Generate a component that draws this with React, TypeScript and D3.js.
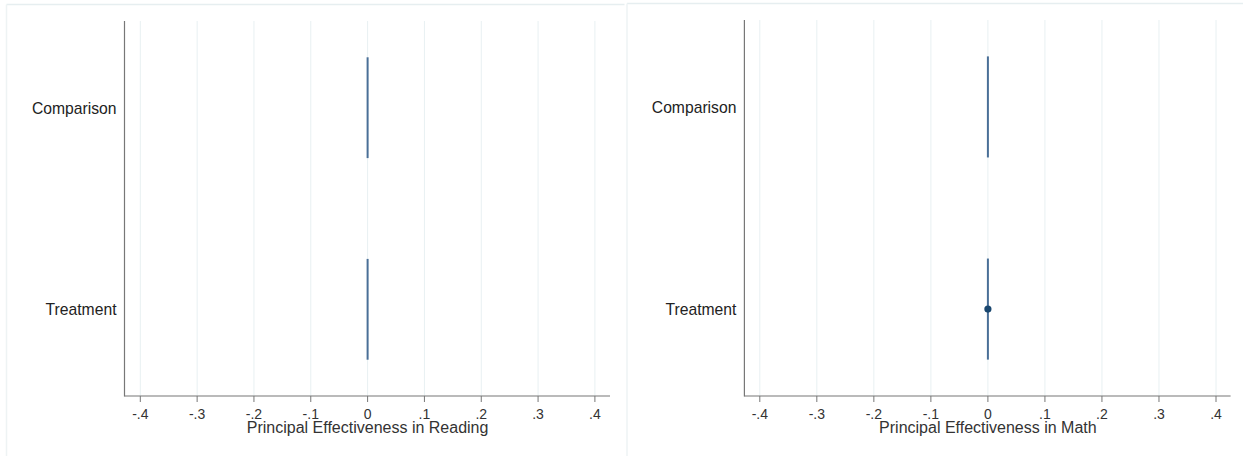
import React from "react";
import * as d3 from "d3";

const categories = ["Comparison", "Treatment"];
const xTicks = [-0.4, -0.3, -0.2, -0.1, 0, 0.1, 0.2, 0.3, 0.4];
const tickLabels = ["-.4", "-.3", "-.2", "-.1", "0", ".1", ".2", ".3", ".4"];

// Reading panel: estimates and vertical CI extents (category units)
const readingEst = [0, 0];
const readingLo = [-0.25, -0.25];
const readingHi = [0.25, 0.25];
const readingDot = [false, false];

// Math panel
const mathEst = [0, 0];
const mathLo = [-0.25, -0.25];
const mathHi = [0.25, 0.25];
const mathDot = [false, true];

const titles = ["Principal Effectiveness in Reading", "Principal Effectiveness in Math"];

const FONT = "'Liberation Sans', Arial, sans-serif";

type PanelProps = {
  frameX: number;
  frameY: number;
  frameW: number;
  axisX: number;
  axisRight: number;
  axisTop: number;
  tickX0: number;
  tickX1: number;
  est: number[];
  lo: number[];
  hi: number[];
  dot: boolean[];
  title: string;
};

function Panel(p: PanelProps) {
  const x = d3.scaleLinear().domain([-0.4, 0.4]).range([p.tickX0, p.tickX1]);
  const axisBottom = 396;
  const y = d3.scaleLinear().domain([0.57, 2.43]).range([p.axisTop, axisBottom]);
  const lineColor = "#4a6f97";
  return (
    <g>
      {/* frame */}
      <line x1={p.frameX} x2={p.frameX + p.frameW} y1={p.frameY} y2={p.frameY} stroke="#e6eef0" strokeWidth={1.5} />
      <line x1={p.frameX} x2={p.frameX} y1={p.frameY} y2={456} stroke="#eef3f4" strokeWidth={1.5} />
      {/* grid */}
      {xTicks.map((t, i) => (
        <line key={"g" + i} x1={x(t)} x2={x(t)} y1={p.axisTop} y2={axisBottom} stroke="#e8f0f2" strokeWidth={1} />
      ))}
      {/* axes */}
      <line x1={p.axisX} x2={p.axisX} y1={p.axisTop} y2={axisBottom + 0.5} stroke="#777" strokeWidth={1.2} />
      <line x1={p.axisX} x2={p.axisRight} y1={axisBottom} y2={axisBottom} stroke="#777" strokeWidth={1.2} />
      {xTicks.map((t, i) => (
        <g key={"t" + i}>
          <line x1={x(t)} x2={x(t)} y1={axisBottom} y2={axisBottom + 6} stroke="#777" strokeWidth={1} />
          <text x={x(t)} y={418.5} textAnchor="middle" fontSize={14} fill="#333" fontFamily={FONT}>
            {tickLabels[i]}
          </text>
        </g>
      ))}
      <text x={x(0)} y={433} textAnchor="middle" fontSize={16} fill="#333" fontFamily={FONT}>
        {p.title}
      </text>
      {categories.map((c, i) => (
        <text key={"c" + i} x={p.axisX - 8} y={y(i + 1) + 6} textAnchor="end" fontSize={15.7} fill="#222" fontFamily={FONT}>
          {c}
        </text>
      ))}
      {categories.map((c, i) => (
        <g key={"m" + i}>
          <line x1={x(p.est[i])} x2={x(p.est[i])} y1={y(i + 1 + p.lo[i])} y2={y(i + 1 + p.hi[i])} stroke={lineColor} strokeWidth={2} />
          {p.dot[i] && <circle cx={x(p.est[i])} cy={y(i + 1)} r={3.6} fill="#1a476f" />}
        </g>
      ))}
    </g>
  );
}

export default function App() {
  return (
    <svg width={1243} height={456} style={{ position: "absolute", left: 0, top: 0, background: "#fff" }}>
      <rect width={1243} height={456} fill="#fff" />
      <Panel
        frameX={6.5}
        frameY={4.5}
        frameW={618}
        axisX={124.5}
        axisRight={610}
        axisTop={21}
        tickX0={140.3}
        tickX1={594.9}
        est={readingEst}
        lo={readingLo}
        hi={readingHi}
        dot={readingDot}
        title={titles[0]}
      />
      <Panel
        frameX={627}
        frameY={3.5}
        frameW={616}
        axisX={744.4}
        axisRight={1230.6}
        axisTop={20}
        tickX0={759.8}
        tickX1={1216}
        est={mathEst}
        lo={mathLo}
        hi={mathHi}
        dot={mathDot}
        title={titles[1]}
      />
    </svg>
  );
}
